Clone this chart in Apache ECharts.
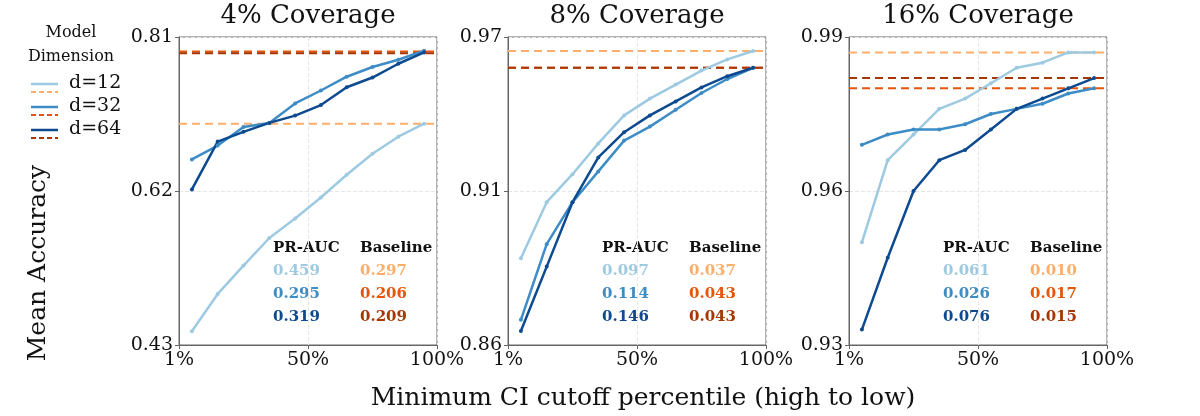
<!DOCTYPE html>
<html>
<head>
<meta charset="utf-8">
<script src="https://cdn.jsdelivr.net/npm/echarts@6/dist/echarts.min.js"></script>
<style>html,body{margin:0;background:#fff}#c{width:1200px;height:416px}</style>
</head>
<body>
<div id="c"></div>
<script>
var xs = [5, 15, 25, 35, 45, 55, 65, 75, 85, 95]
var titles = ['4% Coverage', '8% Coverage', '16% Coverage']
var yRanges = [[0.43, 0.81], [0.86, 0.97], [0.93, 0.99]]

// panel 1 (4%)
var p1d12 = [0.447, 0.493, 0.528, 0.562, 0.586, 0.612, 0.640, 0.666, 0.687, 0.703]
var p1d32 = [0.659, 0.676, 0.699, 0.704, 0.728, 0.744, 0.761, 0.773, 0.782, 0.793]
var p1d64 = [0.622, 0.681, 0.693, 0.704, 0.713, 0.726, 0.748, 0.760, 0.777, 0.791]
var p1base = [0.703, 0.792, 0.790]
// panel 2 (8%)
var p2d12 = [0.891, 0.911, 0.921, 0.932, 0.942, 0.948, 0.953, 0.958, 0.962, 0.965]
var p2d32 = [0.869, 0.896, 0.911, 0.922, 0.933, 0.938, 0.944, 0.950, 0.955, 0.959]
var p2d64 = [0.865, 0.888, 0.911, 0.927, 0.936, 0.942, 0.947, 0.952, 0.956, 0.959]
var p2base = [0.965, 0.959, 0.959]
// panel 3 (16%)
var p3d12 = [0.950, 0.966, 0.971, 0.976, 0.978, 0.981, 0.984, 0.985, 0.987, 0.987]
var p3d32 = [0.969, 0.971, 0.972, 0.972, 0.973, 0.975, 0.976, 0.977, 0.979, 0.980]
var p3d64 = [0.933, 0.947, 0.960, 0.966, 0.968, 0.972, 0.976, 0.978, 0.980, 0.982]
var p3base = [0.987, 0.980, 0.982]

var prauc = [['0.459', '0.295', '0.319'], ['0.097', '0.114', '0.146'], ['0.061', '0.026', '0.076']]
var baseTxt = [['0.297', '0.206', '0.209'], ['0.037', '0.043', '0.043'], ['0.010', '0.017', '0.015']]

var blues = ['#9ecae1', '#3d8cc6', '#0d4a8f']
var oranges = ['#fdae6b', '#e6550d', '#a63603']
var FONT = 'DejaVu Serif'
var lefts = [179, 508, 849]
var W = 258, TOP = 37, H = 308

var lines = [[p1d12, p1d32, p1d64], [p2d12, p2d32, p2d64], [p3d12, p3d32, p3d64]]
var bases = [p1base, p2base, p3base]

var grid = [], xAxis = [], yAxis = [], series = [], graphic = []
for (var i = 0; i < 3; i++) {
  grid.push({left: lefts[i], top: TOP, width: W, height: H, show: true, borderColor: '#666', borderWidth: 1})
  xAxis.push({
    gridIndex: i, type: 'value', min: 0, max: 100, interval: 50,
    axisLine: {lineStyle: {color: '#666'}}, axisTick: {show: true, length: 4, lineStyle: {color: '#666'}},
    axisLabel: {fontFamily: FONT, fontSize: 19, color: '#111', margin: 6,
      formatter: function (v) { return v == 0 ? '1%' : v + '%' }},
    splitLine: {show: true, lineStyle: {color: '#e6e6e6', type: 'dashed'}}
  })
  var r = yRanges[i]
  yAxis.push({
    gridIndex: i, type: 'value', min: r[0], max: r[1], interval: (r[1] - r[0]) / 2,
    axisLine: {lineStyle: {color: '#666'}}, axisTick: {show: true, length: 4, lineStyle: {color: '#666'}},
    axisLabel: {fontFamily: FONT, fontSize: 19, color: '#111', margin: 6,
      formatter: function (v) { return (Math.floor(v * 100 + 1e-6) / 100).toFixed(2) }},
    splitLine: {show: true, lineStyle: {color: '#e6e6e6', type: 'dashed'}}
  })
  // baselines
  for (var k = 0; k < 3; k++) {
    series.push({
      type: 'line', xAxisIndex: i, yAxisIndex: i, z: 2, symbol: 'none',
      data: [[0, bases[i][k]], [100, bases[i][k]]],
      lineStyle: {type: [8, 5], width: 2, color: oranges[k]}
    })
  }
  for (var k = 0; k < 3; k++) {
    series.push({
      type: 'line', xAxisIndex: i, yAxisIndex: i, z: 3,
      data: xs.map(function (x, j) { return [x, lines[i][k][j]] }),
      symbol: 'circle', symbolSize: 4, lineStyle: {width: 2.5, color: blues[k]},
      itemStyle: {color: blues[k]}
    })
  }
  graphic.push({type: 'text', position: [lefts[i] + W / 2, 3], style: {text: titles[i], font: '26px ' + FONT, fill: '#111', textAlign: 'center'}})
  var tx = lefts[i] + 94, bx = lefts[i] + 181
  graphic.push({type: 'text', position: [tx, 241], style: {text: 'PR-AUC', font: 'bold 15px ' + FONT, fill: '#111'}})
  graphic.push({type: 'text', position: [bx, 241], style: {text: 'Baseline', font: 'bold 15px ' + FONT, fill: '#111'}})
  for (var k = 0; k < 3; k++) {
    graphic.push({type: 'text', position: [tx, 264 + k * 23], style: {text: prauc[i][k], font: 'bold 15px ' + FONT, fill: blues[k]}})
    graphic.push({type: 'text', position: [bx, 264 + k * 23], style: {text: baseTxt[i][k], font: 'bold 15px ' + FONT, fill: oranges[k]}})
  }
}

// legend
graphic.push({type: 'text', position: [71, 25], style: {text: 'Model', font: '16px ' + FONT, fill: '#111', textAlign: 'center'}})
graphic.push({type: 'text', position: [71, 49], style: {text: 'Dimension', font: '16px ' + FONT, fill: '#111', textAlign: 'center'}})
var legLabels = ['d=12', 'd=32', 'd=64']
for (var k = 0; k < 3; k++) {
  var y = 84 + k * 23
  graphic.push({type: 'line', shape: {x1: 31, y1: y, x2: 58, y2: y}, style: {stroke: blues[k], lineWidth: 2.5}})
  graphic.push({type: 'line', shape: {x1: 31, y1: y + 8, x2: 58, y2: y + 8}, style: {stroke: oranges[k], lineWidth: 2, lineDash: [5, 3]}})
  graphic.push({type: 'text', position: [69, y - 10], style: {text: legLabels[k], font: '19px ' + FONT, fill: '#111'}})
}
graphic.push({type: 'text', position: [38, 263], rotation: Math.PI / 2, style: {text: 'Mean Accuracy', font: '25px ' + FONT, fill: '#111', textAlign: 'center', textVerticalAlign: 'middle'}})
graphic.push({type: 'text', position: [643, 398], style: {text: 'Minimum CI cutoff percentile (high to low)', font: '25px ' + FONT, fill: '#111', textAlign: 'center', textVerticalAlign: 'middle'}})

var chart = echarts.init(document.getElementById('c'))
chart.setOption({animation: false, grid: grid, xAxis: xAxis, yAxis: yAxis, series: series, graphic: graphic})
</script>
</body>
</html>
